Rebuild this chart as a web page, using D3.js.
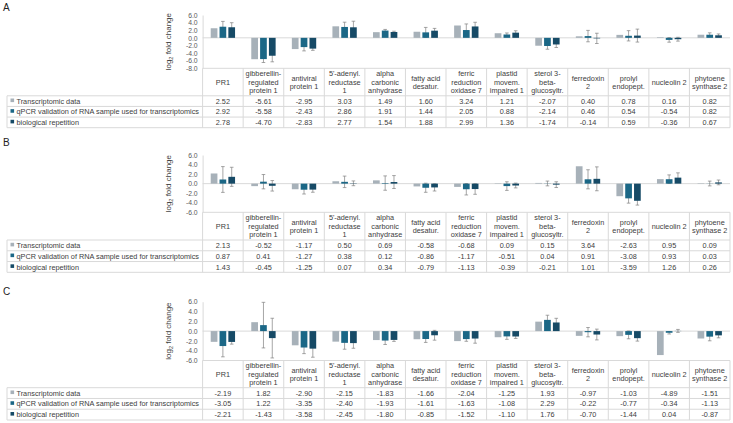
<!DOCTYPE html>
<html>
<head>
<meta charset="utf-8">
<script src="https://cdn.jsdelivr.net/npm/d3@7"></script>
<style>
body{margin:0;background:#fff;}
text{font-family:"Liberation Sans",Arial,sans-serif;}
</style>
</head>
<body>
<svg id="svg" width="733" height="423"></svg>
<script>
const categories = ['PR1','gibberellin-\nregulated\nprotein 1','antiviral\nprotein 1',"5'-adenyl.\nreductase\n1",
  'alpha\ncarbonic\nanhydrase','fatty acid\ndesatur.','ferric\nreduction\noxidase 7','plastid\nmovem.\nimpaired 1',
  'sterol 3-\nbeta-\nglucosyltr.','ferredoxin\n2','prolyl\nendopept.','nucleolin 2','phytoene\nsynthase 2'];
const seriesNames = ['Transcriptomic data','qPCR validation of RNA sample used for transcriptomics','biological repetition'];
const seriesColors = ['#a7b1b9','#1b6786','#164a66'];

// panel A
const transA = [2.52,-5.61,-2.95,3.03,1.49,1.60,3.24,1.21,-2.07,0.40,0.78,0.16,0.82];
const qpcrA  = [2.92,-5.58,-2.43,2.86,1.91,1.44,2.05,0.88,-2.14,0.46,0.54,-0.54,0.82];
const bioA   = [2.78,-4.70,-2.83,2.77,1.54,1.88,2.99,1.36,-1.74,-0.14,0.59,-0.36,0.67];
const qpcrErrA = [1.4,0.9,1.0,1.25,0.3,1.3,1.6,0.4,0.85,1.5,1.35,0.6,0.5];
const bioErrA  = [1.2,1.6,0.45,1.6,0.2,0.6,1.1,0.5,0.8,1.35,1.7,0.5,0.35];
const ticksA = [6,4,2,0,-2,-4,-6,-8];

// panel B
const transB = [2.13,-0.52,-1.17,0.50,0.69,-0.58,-0.68,0.09,0.15,3.64,-2.63,0.95,0.09];
const qpcrB  = [0.87,0.41,-1.27,0.38,0.12,-0.86,-1.17,-0.51,0.04,0.91,-3.08,0.93,0.03];
const bioB   = [1.43,-0.45,-1.25,0.07,0.34,-0.79,-1.13,-0.39,-0.21,1.01,-3.59,1.26,0.26];
const qpcrErrB = [2.7,1.5,0.9,1.2,1.5,0.95,1.2,0.9,0.5,2.0,1.0,0.9,0.5];
const bioErrB  = [2.0,1.1,0.55,0.5,1.35,0.75,1.1,0.5,0.6,2.5,0.9,1.0,0.5];
const ticksB = [6,4,2,0,-2,-4,-6];

// panel C
const transC = [-2.19,1.82,-2.90,-2.15,-1.83,-1.66,-2.04,-1.25,1.93,-0.97,-1.03,-4.89,-1.51];
const qpcrC  = [-3.05,1.22,-3.35,-2.40,-1.93,-1.61,-1.63,-1.08,2.29,-0.22,-0.77,-0.34,-1.13];
const bioC   = [-2.21,-1.43,-3.58,-2.45,-1.80,-0.85,-1.52,-1.10,1.76,-0.70,-1.44,0.04,-0.87];
const qpcrErrC = [2.2,4.65,1.25,1.3,0.8,0.7,0.45,0.6,0.95,0.95,0.8,0.25,0.85];
const bioErrC  = [0.45,4.05,1.75,1.05,0.3,1.0,0.95,0.4,0.85,1.1,0.6,0.3,0.5];
const ticksC = [6,4,2,0,-2,-4,-6];

const svg = d3.select('#svg');
const x = d3.scaleBand().domain(categories).range([202.6, 730]);
const inner = d3.scaleBand().domain([0,1,2])
  .range([x.bandwidth()*0.2, x.bandwidth()*0.8]).paddingInner(0.24);

function drawPanel(p){
  const g = svg.append('g');
  const y = d3.scaleLinear().domain([p.ticks[p.ticks.length-1], 6]).range([p.tableTop, p.top]);

  g.append('text').attr('x',3).attr('y',p.letterY).attr('font-size',10).attr('fill','#222').text(p.letter);

  // axis
  const ax = g.append('g').attr('transform','translate(202.6,0)')
    .call(d3.axisLeft(y).tickValues(p.ticks).tickSize(0).tickPadding(5).tickFormat(d => d.toFixed(1)));
  ax.select('.domain').attr('stroke','#d9d9d9');
  ax.selectAll('text').attr('font-size',6.8).attr('fill','#595959')
    .attr('font-family','"Liberation Sans",Arial,sans-serif');

  const lab = g.append('text').attr('transform',`translate(171,${(p.top+p.tableTop)/2}) rotate(-90)`)
    .attr('text-anchor','middle').attr('font-size',8).attr('fill','#404040');
  lab.append('tspan').text('log');
  lab.append('tspan').attr('font-size',5.5).attr('dy',2).text('2');
  lab.append('tspan').attr('dy',-2).text(' fold change');

  g.append('line').attr('x1',202.6).attr('x2',730).attr('y1',y(0)).attr('y2',y(0)).attr('stroke','#d9d9d9');

  // error bars (drawn under the bars)
  [[p.qpcr,p.qErr,1],[p.bio,p.bErr,2]].forEach(([vals,errs,s]) => {
    vals.forEach((v,i) => {
      const cx = x(categories[i]) + inner(s) + inner.bandwidth()/2;
      const y1 = y(v+errs[i]), y2 = y(v-errs[i]);
      g.append('line').attr('x1',cx).attr('x2',cx).attr('y1',y1).attr('y2',y2).attr('stroke','#7f7f7f').attr('stroke-width',0.7);
      [y1,y2].forEach(yy => g.append('line').attr('x1',cx-1.8).attr('x2',cx+1.8).attr('y1',yy).attr('y2',yy)
        .attr('stroke','#7f7f7f').attr('stroke-width',0.7));
    });
  });

  // bars
  const series = [p.trans, p.qpcr, p.bio];
  series.forEach((vals, s) => {
    g.selectAll('.bar'+s).data(vals).enter().append('rect')
      .attr('x',(d,i) => x(categories[i]) + inner(s))
      .attr('width', inner.bandwidth())
      .attr('y', d => y(Math.max(0,d)))
      .attr('height', d => Math.abs(y(d)-y(0)))
      .attr('fill', seriesColors[s]);
  });

  // data table
  const rowH = (p.end - p.headerBottom)/3;
  const border = '#d9d9d9';
  g.append('line').attr('x1',202.6).attr('x2',730).attr('y1',p.tableTop).attr('y2',p.tableTop).attr('stroke',border);
  for(let r=0;r<=3;r++){
    const yy = p.headerBottom + r*rowH;
    g.append('line').attr('x1',7).attr('x2',730).attr('y1',yy).attr('y2',yy).attr('stroke',border);
  }
  g.append('line').attr('x1',7).attr('x2',7).attr('y1',p.headerBottom).attr('y2',p.end).attr('stroke',border);
  categories.concat(['_end']).forEach((c,i) => {
    const xx = i < categories.length ? x(c) : 730;
    g.append('line').attr('x1',xx).attr('x2',xx).attr('y1',p.tableTop).attr('y2',p.end).attr('stroke',border);
  });

  categories.forEach(c => {
    const lines = c.split('\n');
    const lh = 8.3;
    const cy = (p.tableTop + p.headerBottom)/2;
    const t = g.append('text').attr('text-anchor','middle').attr('font-size',7.3).attr('fill','#404040');
    lines.forEach((ln,k) => {
      t.append('tspan').attr('x', x(c)+x.bandwidth()/2)
        .attr('y', cy - (lines.length-1)*lh/2 + k*lh + 2.6).text(ln);
    });
  });

  series.forEach((vals,s) => {
    const cy = p.headerBottom + s*rowH + rowH/2 + 2.6;
    g.append('rect').attr('x',10.5).attr('y',cy-5.2).attr('width',3.6).attr('height',3.6).attr('fill',seriesColors[s]);
    g.append('text').attr('x',16.5).attr('y',cy).attr('font-size',7.3).attr('fill','#404040').text(seriesNames[s]);
    vals.forEach((v,i) => {
      g.append('text').attr('x', x(categories[i])+x.bandwidth()/2).attr('y',cy)
        .attr('text-anchor','middle').attr('font-size',7.3).attr('fill','#404040').text(v.toFixed(2));
    });
  });
}

drawPanel({letter:'A', letterY:11, top:15, tableTop:68.3, headerBottom:95.8, end:127.7,
  ticks:ticksA, trans:transA, qpcr:qpcrA, bio:bioA, qErr:qpcrErrA, bErr:bioErrA});
drawPanel({letter:'B', letterY:146, top:155, tableTop:212.3, headerBottom:240, end:272.3,
  ticks:ticksB, trans:transB, qpcr:qpcrB, bio:bioB, qErr:qpcrErrB, bErr:bioErrB});
drawPanel({letter:'C', letterY:295, top:301.7, tableTop:360.5, headerBottom:387.7, end:420,
  ticks:ticksC, trans:transC, qpcr:qpcrC, bio:bioC, qErr:qpcrErrC, bErr:bioErrC});
</script>
</body>
</html>
